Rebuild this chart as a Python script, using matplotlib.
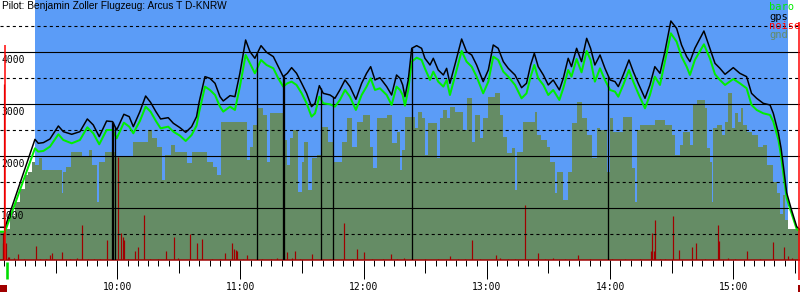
import numpy as np
import matplotlib
matplotlib.use('Agg')
import matplotlib.pyplot as plt
from matplotlib.patches import Rectangle
import matplotlib.transforms as mtransforms

# time in minutes after 09:00, altitude in m
titel = 'Pilot: Benjamin Zoller Flugzeug: Arcus T D-KNRW'

gps_t = [2.9, 5.3, 19.9, 21.5, 24.0, 27.2, 31.3, 33.7, 37.8, 41.8, 45.4, 48.3, 51.2, 54.8, 57.7, 59.7,
         63.2, 65.8, 67.8, 71.0, 73.8, 76.2, 78.8, 81.1, 84.8, 87.3, 90.5, 93.3, 96.2, 98.6, 99.9,
         102.7, 105.1, 107.6, 110.0, 111.6, 114.9, 117.3, 119.7, 122.5, 124.6, 127.0, 130.0, 132.7,
         136.0, 138.4, 140.8, 142.8, 144.9, 147.3, 149.8, 152.2, 154.6, 156.3, 158.4, 160.3, 163.6,
         166.0, 168.4, 170.9, 173.3, 176.2, 179.0, 181.4, 183.4, 185.5, 187.9, 191.2, 193.6, 196.0,
         197.7, 199.0, 200.1, 201.7, 203.4, 205.8, 208.2, 209.8, 212.3, 213.9, 216.3, 218.8, 220.4,
         222.0, 224.4, 227.7, 230.1, 232.6, 235.0, 238.2, 240.7, 243.1, 245.5, 248.0, 250.4, 253.7,
         256.9, 259.3, 261.3, 263.1, 265.0, 267.5, 269.9, 272.3, 275.3, 277.2, 279.6, 281.2, 283.7,
         286.1, 288.6, 290.5, 292.6, 295.1, 297.5, 300.0, 302.4, 304.0, 306.4, 309.2, 311.3, 313.7,
         317.0, 319.4, 321.8, 324.3, 326.7, 329.6, 332.4, 334.8, 337.3, 338.9, 341.3, 345.7, 348.6,
         351.1, 353.5, 356.0, 360.0, 363.2, 366.5, 368.9, 371.4, 374.6, 377.9, 379.5, 382.0, 383.3,
         384.6, 386.0, 388.4, 390.9, 392.5]
gps = [635, 635, 2327, 2250, 2263, 2333, 2583, 2474, 2423, 2474, 2718, 2603, 2378, 2679, 2667, 2506,
       2808, 2763, 2570, 2859, 3160, 3038, 2859, 2718, 2743, 2635, 2551, 2461, 2570, 2763, 3050,
       3532, 3500, 3404, 3147, 3064, 3167, 3147, 3596, 4237, 4013, 3885, 4128, 4000,
       3917, 3724, 3532, 3596, 3705, 3596, 3404, 3211, 2955, 3019, 3359, 3211, 3179,
       3115, 3276, 3468, 3340, 3096, 3404, 3596, 3724, 3468, 3512, 3340, 3179, 3564,
       3500, 3372, 3147, 3468, 4077, 4128, 4077, 3885, 3756, 3885, 3660, 3564, 3692,
       3404, 3756, 4256, 4013, 3949, 3756, 3436, 3660, 4141, 4077, 3821, 3692, 3564,
       3320, 3404, 3756, 3981, 3724, 3564, 3372, 3468, 3276, 3500, 3885, 3724, 4077,
       3821, 4269, 4077, 3756, 3949, 3692, 3468, 3436, 3340, 3564, 3853, 3628, 3404,
       3115, 3372, 3724, 3596, 4013, 4602, 4461, 4141, 3917, 3821, 4077, 4410, 4077,
       3788, 3692, 3577, 3705, 3596, 3532, 3211, 3115, 3019, 2987, 2827, 2442, 2150,
       1750, 1300, 965, 646, 590]
baro = [551, 551, 2154, 2090, 2103, 2186, 2423, 2314, 2250, 2314, 2558, 2442, 2231, 2506, 2506, 2346,
        2647, 2570, 2442, 2679, 2955, 2859, 2679, 2538, 2570, 2474, 2397, 2295, 2410, 2590, 2859,
        3340, 3276, 3179, 2955, 2859, 2955, 2891, 3340, 3949, 3788, 3596, 3853, 3756,
        3692, 3500, 3340, 3404, 3436, 3372, 3211, 3019, 2763, 2827, 3147, 3019, 3000,
        2955, 3083, 3276, 3147, 2891, 3179, 3340, 3500, 3276, 3308, 3179, 2987, 3340,
        3276, 3179, 2974, 3276, 3821, 3897, 3853, 3692, 3468, 3628, 3436, 3340, 3468,
        3179, 3532, 4026, 3821, 3724, 3532, 3211, 3436, 3917, 3853, 3628, 3532, 3372,
        3115, 3211, 3532, 3756, 3500, 3372, 3179, 3276, 3083, 3308, 3660, 3532, 3872,
        3615, 4026, 3853, 3436, 3692, 3468, 3276, 3243, 3147, 3372, 3660, 3436, 3211,
        2923, 3179, 3532, 3372, 3821, 4365, 4205, 3917, 3724, 3564, 3853, 4154, 3885,
        3577, 3468, 3372, 3487, 3404, 3308, 2987, 2891, 2827, 2795, 2667, 2314, 2000,
        1600, 1200, 900, 600, 560]

gnd_t = [2.9, 5.3, 7.7, 10.2, 12.6, 15.0, 16.7, 18.3, 19.9, 22.0, 23.2, 32.9, 33.7, 35.0, 37.3, 42.6,
         46.4, 47.5, 50.0, 50.9, 54.0, 58.9, 67.8, 75.1, 76.7, 79.2, 81.6, 83.2, 86.0, 88.1, 93.8, 96.2,
         103.5, 106.8, 108.4, 110.3, 116.5, 123.0, 124.6, 126.2, 128.7, 131.1, 132.7, 134.4, 140.8,
         142.8, 144.1, 145.7, 148.2, 149.8, 150.9, 153.0, 154.6, 157.1, 159.5, 162.8, 165.2, 169.2,
         171.7, 174.1, 176.5, 179.8, 183.0, 184.7, 186.3, 191.2, 193.6, 196.0,
         197.7, 198.5, 200.1, 205.0, 206.6, 208.2, 209.8, 211.5, 215.5, 217.1, 218.8, 220.4, 222.0,
         224.4, 228.5, 230.1, 232.6, 234.2, 236.6, 238.2, 240.7, 243.9, 246.4, 248.0, 249.6, 252.0,
         253.7, 254.5, 257.7, 263.4, 264.2, 266.6, 269.1, 270.7, 273.1, 274.0, 277.2, 279.6, 281.3,
         283.7, 286.1, 288.6, 291.0, 293.4,
         295.1, 298.3, 300.0, 301.6, 306.4, 310.5, 312.1, 313.2, 314.5, 321.8, 326.7, 330.0, 331.6,
         334.0, 335.6, 338.9, 340.5, 342.1, 346.2, 347.0, 348.6, 349.6, 350.3, 351.9, 354.3, 355.9,
         357.6, 359.2, 360.8, 362.4, 364.0, 364.9, 366.5, 368.9, 372.2, 374.6, 376.2, 379.5, 381.1,
         382.7, 384.0, 385.1, 386.5, 392.5]
gnd = [551, 600, 850, 1120, 1380, 1640, 1705, 1897, 1833, 1961, 1737, 1288, 1705, 1801, 2077, 1994,
       2122, 1833, 1128, 1897, 2090, 1994, 2269, 2506, 2346, 2186, 1551, 2026, 2218, 2090, 1865, 2090,
       1897, 1801, 1641, 2667, 2654, 1929, 2186, 2602, 2936, 2795, 1897, 2827, 2314,
       1833, 2346, 2506, 1320, 1897, 2282, 1353, 1961, 2026, 2570, 2282, 1897, 2282,
       2731, 2186, 2667, 2795, 2186, 1769, 2731, 2795, 2250, 2474,
       1737, 2122, 2763, 2538, 2859, 2731, 2026, 2635, 1961, 2731, 2891, 2731, 2955,
       2859, 2506, 3115, 2282, 2795, 2346, 2731, 3147, 3211, 2795, 2378, 2058, 2154,
       1353, 2090, 2667, 2859, 2410, 2314, 2186, 1897, 1288, 1705, 1160, 1705, 2635,
       3051, 2731, 2410, 1961, 2538,
       2506, 1705, 2731, 2474, 2763, 1769, 1128, 2506, 2602, 2699, 2602, 2410, 2026,
       2218, 2474, 2218, 2987, 3083, 2923, 2154, 1897, 1130, 2538, 2602, 2410, 2667,
       3211, 2538, 2827, 2667, 2923, 2602, 2474, 2410, 2186, 2218, 1833, 1513, 1300,
       900, 1250, 780, 600, 600]

noise_t = [4.2, 4.5, 4.8, 5.8, 7.4, 11.8, 20.4, 27.2, 28.2, 32.9, 42.7, 54.8, 60.5, 61.6, 62.9, 63.4,
           68.6, 69.9, 73.0, 83.6, 87.6, 95.4, 98.7, 101.4, 112.4, 115.7, 117.0, 117.8, 118.4, 123.0,
           142.8, 146.5, 155.0, 170.6, 176.9, 180.3, 193.1, 199.6, 222.0, 232.9, 244.3, 258.7, 265.0,
           284.5, 319.9, 320.5, 321.5, 322.0, 330.5, 333.5, 340.0, 341.8, 352.7, 353.2, 366.5, 379.5,
           384.8, 386.8,
           6.8, 9.7, 14.6, 22.4, 25.3, 29.2, 37.0, 40.4, 45.7, 48.7, 51.6, 65.2, 75.9, 79.8, 89.6,
           106.1, 110.0, 121.2, 130.5, 134.9, 137.8, 145.1, 149.0, 163.6, 174.3, 184.0, 189.4, 196.2,
           203.5, 209.9, 216.2, 225.9, 229.3, 236.6, 246.4, 250.3, 253.7, 268.3, 272.2, 278.0, 290.2,
           300.9, 307.2, 314.6, 324.3, 326.7, 346.2, 357.4, 360.8, 373.0, 388.6]
noise = [327, 519, 3400, 330, 60, 122, 276, 100, 135, 167, 680, 391, 1994, 519, 455, 390,
         186, 263, 872, 186, 455, 506, 327, 404, 147, 327, 215, 200, 180, 103,
         167, 186, 122, 711, 218, 167, 122, 50, 83, 391, 103, 1064, 141,
         103, 186, 532, 186, 776, 853, 199, 263, 340, 680, 378, 180, 359,
         263, 80,
         60, 40, 30, 20, 30, 25, 30, 40, 25, 30, 20, 25, 30, 20, 35,
         25, 20, 30, 20, 25, 35, 40, 25, 20, 30, 25, 20, 25,
         30, 20, 25, 30, 25, 20, 35, 25, 30, 20, 40, 25, 30,
         25, 30, 20, 30, 25, 20, 35, 25, 30, 40]

# gps ausfaelle (senkrechte striche)
gps_luecken = [57.4, 57.75, 58.9, 128.2, 140.7, 141.1, 159.0, 165.2, 203.4, 299.2]

abflug = 19.9
landung = 386.5
marke_links = 5.4
marke_rechts = 391.8

stunden = [60, 120, 180, 240, 300, 360]
stunden_txt = ['10:00', '11:00', '12:00', '13:00', '14:00', '15:00']
halbe = [30, 90, 150, 210, 270, 330, 390]
fuenf = list(range(5, 395, 5))

c_blau = '#5b9cf7'
c_gnd = '#658c65'
c_noise = '#a00000'
c_baro = '#00ee00'

px = 0.72  # 1 pixel in punkten

fig = plt.figure(figsize=(8, 3), dpi=100)
ax = fig.add_axes([0, 39.7/300, 1, 260.3/300])
ax.set_xlim(2.87, 392.5)
ax.set_ylim(0, 5006)
ax.set_facecolor('white')

ax.axvspan(abflug, landung, color=c_blau, lw=0, zorder=0)
ax.fill_between(gnd_t, gnd, 0, step='post', color=c_gnd, lw=0, zorder=1)
ax.vlines(noise_t, 0, noise, color=c_noise, lw=1.2*px, zorder=2)

for v in [1000, 2000, 3000, 4000]:
    ax.axhline(v, color='black', lw=1.1*px, zorder=3)
for v in [500, 1500, 2500, 3500, 4500]:
    ax.axhline(v, color='black', lw=1.1*px, ls=(0, (2.8, 2.8)), zorder=3)

ax.plot(gps_t, baro, color=c_baro, lw=2*px, zorder=4)
ax.plot(gps_t, gps, color='black', lw=1.5*px, zorder=5)
ax.vlines(gps_luecken, 0, np.interp(gps_luecken, gps_t, gps), color='black', lw=1.3*px, zorder=5)

# start / ende marken
ax.vlines(marke_links, 0, 4140, color='#ff0000', lw=1.5*px, zorder=6)
ax.vlines(marke_rechts, -385, 4580, color='#ff0000', lw=1.5*px, zorder=6, clip_on=False)
ax.vlines(marke_links + 0.9, -30, -360, color='#00dd00', lw=2.6*px, clip_on=False)
ax.add_patch(Rectangle((2.87, -610), marke_links + 0.9 - 2.87, 135, color=c_noise, clip_on=False, lw=0))
ax.add_patch(Rectangle((marke_rechts - 0.3, -610), 0.8, 135, color=c_noise, clip_on=False, lw=0))

for s in ['top', 'left', 'right']:
    ax.spines[s].set_visible(False)
ax.spines['bottom'].set_color(c_noise)
ax.spines['bottom'].set_linewidth(1.5*px)
ax.set_yticks([])

ax.set_xticks(stunden)
ax.set_xticklabels(stunden_txt, family='DejaVu Sans Mono', fontsize=7)
ax.set_xticks(fuenf, minor=True)
ax.tick_params(axis='x', which='major', length=19*px, width=px, pad=2, color='black')
ax.tick_params(axis='x', which='minor', length=6*px, width=px, color='black')

sec = ax.secondary_xaxis('bottom')
sec.set_xticks(halbe)
sec.tick_params(length=13*px, width=px, labelbottom=False, color='black')
sec.spines['bottom'].set_visible(False)

# hoehen beschriftung
trans = mtransforms.blended_transform_factory(ax.transAxes, ax.transData)
for v in [1000, 2000, 3000, 4000]:
    ax.text(1/800, v - 200, str(v), transform=trans, family='DejaVu Sans Mono', fontsize=7,
            va='baseline', ha='left', zorder=5.5)

fig.text(2/800, 1 - 9/300, titel, family='Liberation Sans', fontsize=7.3, va='baseline', ha='left')

leg = [('baro', c_baro, 10), ('gps', 'black', 19.5), ('noise', '#ff0000', 29), ('gnd', c_gnd, 38.5)]
for name, farbe, y in leg:
    fig.text(769/800, 1 - y/300, name, color=farbe, family='DejaVu Sans Mono', fontsize=7.5,
             va='baseline', ha='left')

fig.savefig('out.png', dpi=100)
